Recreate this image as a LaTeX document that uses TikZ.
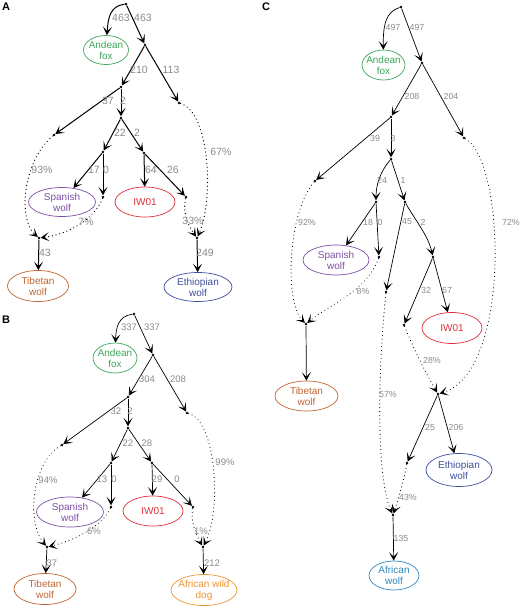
\documentclass[tikz,border=0pt]{standalone}
\usepackage{fontspec}
\setmainfont{Liberation Sans}
\usetikzlibrary{arrows.meta,shapes.geometric}
\definecolor{cgreen}{HTML}{3DA55A}
\definecolor{cpurple}{HTML}{7D4FA6}
\definecolor{cred}{HTML}{E0303A}
\definecolor{cbrown}{HTML}{BF6430}
\definecolor{cblue}{HTML}{3E4E9E}
\definecolor{corange}{HTML}{EE9330}
\definecolor{clblue}{HTML}{2E88C0}
\definecolor{lblgray}{HTML}{8A8A8A}
\tikzset{
 dot/.style={circle,fill=black,inner sep=0pt,minimum size=2.8pt},
 sp/.style={ellipse,draw,inner sep=0pt,line width=0.7pt},
 spt/.style={align=center,inner sep=0pt,font=\fontsize{10}{11}\selectfont},
 tipA/.style={-{Stealth[length=8.5pt,width=9pt,inset=4.5pt]}},
 solA/.style={tipA,line width=1pt},
 dotA/.style={tipA,line width=1.3pt,line cap=round,dash pattern=on 0.01pt off 3.8pt},
 solB/.style={tipA,line width=0.7pt},
 dotB/.style={tipA,line width=1.1pt,line cap=round,dash pattern=on 0.01pt off 3.8pt},
 lbl/.style={text=lblgray,font=\fontsize{10.5}{12}\selectfont,inner sep=0pt},
 lblB/.style={text=lblgray,font=\fontsize{9.5}{11}\selectfont,inner sep=0pt},
 lblC/.style={text=lblgray,font=\fontsize{8.8}{10}\selectfont,inner sep=0pt},
 panel/.style={font=\bfseries\fontsize{11}{12}\selectfont,inner sep=0pt}
}
\begin{document}
\begin{tikzpicture}[x=1pt,y=-1pt]
\useasboundingbox (0,0) rectangle (520,611);
% ================= Panel A =================
\node[panel] (pA) at (6,7) {A};
\node[dot] (a0) at (126,4) {};
\node[dot] (a1) at (145,45) {};
\node[dot] (a2) at (121,87) {};
\node[dot] (a3) at (179,103) {};
\node[dot] (a4) at (54,135) {};
\node[dot] (a5) at (121,118) {};
\node[dot] (a6) at (103,152) {};
\node[dot] (a7) at (144,153) {};
\node[dot] (a8) at (103,197) {};
\node[dot] (a9) at (186,197) {};
\node[dot] (aE) at (197,238) {};
\node[dot] (aT) at (39,238) {};
\node[sp,draw=cgreen,minimum width=45pt,minimum height=29pt] (aFox) at (106,50) {};
\node[spt,text=cgreen] (aFoxT) at (aFox) {Andean\\fox};
\node[sp,draw=cpurple,minimum width=67pt,minimum height=29pt] (aSp) at (62,202) {};
\node[spt,text=cpurple] (aSpT) at (aSp) {Spanish\\wolf};
\node[sp,draw=cred,minimum width=60pt,minimum height=30pt] (aIW) at (145,202) {};
\node[spt,text=cred] (aIWT) at (aIW) {IW01};
\node[sp,draw=cbrown,minimum width=61pt,minimum height=31pt] (aTib) at (38,286) {};
\node[spt,text=cbrown] (aTibT) at (aTib) {Tibetan\\wolf};
\node[sp,draw=cblue,minimum width=68pt,minimum height=29pt] (aEth) at (198,287) {};
\node[spt,text=cblue] (aEthT) at (aEth) {Ethiopian\\wolf};
\draw[solA] (a0) .. controls (110,6) and (108,18) .. (aFox);
\draw[solA] (a0) -- (a1);
\draw[solA] (a1) -- (a2);
\draw[solA] (a1) -- (a3);
\draw[solA] (a2) -- (a4);
\draw[solA] (a2) -- (a5);
\draw[solA] (a5) -- (a6);
\draw[solA] (a5) -- (a7);
\draw[solA] (a6) -- (aSp);
\draw[solA] (a6) -- (a8);
\draw[solA] (a7) -- (aIW);
\draw[solA] (a7) -- (a9);
\draw[solA] (aT) -- (aTib);
\draw[solA] (aE) -- (aEth);
\draw[dotA] (a3) .. controls (210,112) and (214,200) .. (aE);
\draw[dotA] (a9) .. controls (182,215) and (190,228) .. (aE);
\draw[dotA] (a4) .. controls (22,162) and (18,220) .. (aT);
\draw[dotA] (a8) .. controls (95,218) and (70,234) .. (aT);
\node[lbl] (la1) at (121,18) {463};
\node[lbl] (la2) at (143,18) {463};
\node[lbl] (la3) at (139,70) {210};
\node[lbl] (la4) at (171,70) {113};
\node[lbl] (la5) at (108,101) {37};
\node[lbl] (la6) at (123,101) {2};
\node[lbl] (la7) at (120,133) {22};
\node[lbl] (la8) at (137,133) {2};
\node[lbl] (la9) at (94,170) {17};
\node[lbl] (la10) at (106,170) {0};
\node[lbl] (la11) at (151,170) {64};
\node[lbl] (la12) at (173,170) {26};
\node[lbl] (la13) at (221,152) {67\%};
\node[lbl] (la14) at (42,170) {93\%};
\node[lbl] (la15) at (86,222) {7\%};
\node[lbl] (la16) at (193,221) {33\%};
\node[lbl] (la17) at (45,253) {43};
\node[lbl] (la18) at (205,253) {249};
% ================= Panel B =================
\node[panel] (pB) at (6,320) {B};
\node[dot] (b0) at (134,314) {};
\node[dot] (b1) at (153,355) {};
\node[dot] (b2) at (128,397) {};
\node[dot] (b3) at (187,413) {};
\node[dot] (b4) at (62,445) {};
\node[dot] (b5) at (128,428) {};
\node[dot] (b6) at (111,463) {};
\node[dot] (b7) at (152,463) {};
\node[dot] (b8) at (111,507) {};
\node[dot] (b9) at (193,507) {};
\node[dot] (bE) at (203,547) {};
\node[dot] (bT) at (47,547) {};
\node[sp,draw=cgreen,minimum width=44pt,minimum height=30pt] (bFox) at (115,358) {};
\node[spt,text=cgreen] (bFoxT) at (bFox) {Andean\\fox};
\node[sp,draw=cpurple,minimum width=67pt,minimum height=30pt] (bSp) at (70,512) {};
\node[spt,text=cpurple] (bSpT) at (bSp) {Spanish\\wolf};
\node[sp,draw=cred,minimum width=60pt,minimum height=30pt] (bIW) at (153,511) {};
\node[spt,text=cred] (bIWT) at (bIW) {IW01};
\node[sp,draw=cbrown,minimum width=62pt,minimum height=31pt] (bTib) at (45,589) {};
\node[spt,text=cbrown] (bTibT) at (bTib) {Tibetan\\wolf};
\node[sp,draw=corange,minimum width=66pt,minimum height=31pt] (bAwd) at (204,590) {};
\node[spt,text=corange] (bAwdT) at (bAwd) {African wild\\dog};
\draw[solB] (b0) .. controls (118,316) and (116,328) .. (bFox);
\draw[solB] (b0) -- (b1);
\draw[solB] (b1) -- (b2);
\draw[solB] (b1) -- (b3);
\draw[solB] (b2) -- (b4);
\draw[solB] (b2) -- (b5);
\draw[solB] (b5) -- (b6);
\draw[solB] (b5) -- (b7);
\draw[solB] (b6) -- (bSp);
\draw[solB] (b6) -- (b8);
\draw[solB] (b7) -- (bIW);
\draw[solB] (b7) -- (b9);
\draw[solB] (bT) -- (bTib);
\draw[solB] (bE) -- (bAwd);
\draw[dotB] (b3) .. controls (216,420) and (222,510) .. (bE);
\draw[dotB] (b9) .. controls (190,522) and (197,536) .. (bE);
\draw[dotB] (b4) .. controls (32,462) and (26,522) .. (bT);
\draw[dotB] (b8) .. controls (102,526) and (76,540) .. (bT);
\node[lblB] (lb1) at (129,327) {337};
\node[lblB] (lb2) at (152,327) {337};
\node[lblB] (lb3) at (147,379) {304};
\node[lblB] (lb4) at (178,379) {208};
\node[lblB] (lb5) at (116,411) {32};
\node[lblB] (lb6) at (130,411) {2};
\node[lblB] (lb7) at (128,443) {22};
\node[lblB] (lb8) at (147,443) {28};
\node[lblB] (lb9) at (102,479) {13};
\node[lblB] (lb10) at (114,479) {0};
\node[lblB] (lb11) at (157,479) {29};
\node[lblB] (lb12) at (177,479) {0};
\node[lblB] (lb13) at (225,462) {99\%};
\node[lblB] (lb14) at (48,480) {94\%};
\node[lblB] (lb15) at (94,531) {6\%};
\node[lblB] (lb16) at (201,531) {1\%};
\node[lblB] (lb17) at (52,563) {37};
\node[lblB] (lb18) at (212,563) {212};
% ================= Panel C =================
\node[panel] (pC) at (266,7) {C};
\node[dot] (c0) at (401,7) {};
\node[dot] (c1) at (422,63) {};
\node[dot] (c2) at (391,117) {};
\node[dot] (c3) at (464,138) {};
\node[dot] (c4) at (315,181) {};
\node[dot] (c5) at (391,159) {};
\node[dot] (c6) at (376,202) {};
\node[dot] (c7) at (405,202) {};
\node[dot] (c8) at (379,257) {};
\node[dot] (c9) at (386,292) {};
\node[dot] (c10) at (433,257) {};
\node[dot] (c11) at (404,325) {};
\node[dot] (c12) at (407,463) {};
\node[dot] (cE) at (438,394) {};
\node[dot] (cT) at (306,324) {};
\node[dot] (cA) at (393,515) {};
\node[sp,draw=cgreen,minimum width=43pt,minimum height=30pt] (cFox) at (383.5,65) {};
\node[spt,text=cgreen] (cFoxT) at (cFox) {Andean\\fox};
\node[sp,draw=cpurple,minimum width=66pt,minimum height=30pt] (cSp) at (336,260) {};
\node[spt,text=cpurple] (cSpT) at (cSp) {Spanish\\wolf};
\node[sp,draw=cred,minimum width=60pt,minimum height=31pt] (cIW) at (452,328) {};
\node[spt,text=cred] (cIWT) at (cIW) {IW01};
\node[sp,draw=cbrown,minimum width=63pt,minimum height=30pt] (cTib) at (306.5,396) {};
\node[spt,text=cbrown] (cTibT) at (cTib) {Tibetan\\wolf};
\node[sp,draw=cblue,minimum width=66pt,minimum height=33pt] (cEth) at (459,470) {};
\node[spt,text=cblue] (cEthT) at (cEth) {Ethiopian\\wolf};
\node[sp,draw=clblue,minimum width=50pt,minimum height=29pt] (cAfw) at (394,575.5) {};
\node[spt,text=clblue] (cAfwT) at (cAfw) {African\\wolf};
\draw[solB] (c0) .. controls (386,12) and (383,24) .. (cFox);
\draw[solB] (c0) -- (c1);
\draw[solB] (c1) -- (c2);
\draw[solB] (c1) -- (c3);
\draw[solB] (c2) -- (c4);
\draw[solB] (c2) -- (c5);
\draw[solB] (c5) .. controls (380,172) and (376,185) .. (c6);
\draw[solB] (c5) -- (c7);
\draw[solB] (c6) -- (cSp);
\draw[solB] (c6) -- (c8);
\draw[solB] (c7) -- (c9);
\draw[solB] (c7) .. controls (415,220) and (428,235) .. (c10);
\draw[solB] (c10) -- (c11);
\draw[solB] (c10) -- (cIW);
\draw[solB] (cT) -- (cTib);
\draw[solB] (cE) -- (c12);
\draw[solB] (cE) -- (cEth);
\draw[solB] (cA) -- (cAfw);
\draw[dotB] (c3) .. controls (505,160) and (512,372) .. (cE);
\draw[dotB] (c11) .. controls (412,345) and (424,370) .. (cE);
\draw[dotB] (c4) .. controls (288,212) and (284,302) .. (cT);
\draw[dotB] (c8) .. controls (366,292) and (330,304) .. (cT);
\draw[dotB] (c9) .. controls (377,380) and (377,480) .. (cA);
\draw[dotB] (c12) .. controls (404,480) and (398,500) .. (cA);
\node[lblC] (lc1) at (393,27) {497};
\node[lblC] (lc2) at (417,27) {497};
\node[lblC] (lc3) at (412,96) {208};
\node[lblC] (lc4) at (451,96) {204};
\node[lblC] (lc5) at (375,138) {39};
\node[lblC] (lc6) at (393,138) {3};
\node[lblC] (lc7) at (382,180) {24};
\node[lblC] (lc8) at (403,180) {1};
\node[lblC] (lc9) at (368,222) {18};
\node[lblC] (lc10) at (380,222) {0};
\node[lblC] (lc11) at (407,222) {45};
\node[lblC] (lc12) at (423,222) {2};
\node[lblC] (lc13) at (307,222) {92\%};
\node[lblC] (lc14) at (511,222) {72\%};
\node[lblC] (lc15) at (363,291) {8\%};
\node[lblC] (lc16) at (426,290) {32};
\node[lblC] (lc17) at (447,290) {67};
\node[lblC] (lc18) at (432,360) {28\%};
\node[lblC] (lc19) at (388,394) {57\%};
\node[lblC] (lc20) at (430,427) {25};
\node[lblC] (lc21) at (456,427) {206};
\node[lblC] (lc22) at (408,497) {43\%};
\node[lblC] (lc23) at (401,538) {135};
\end{tikzpicture}
\end{document}
